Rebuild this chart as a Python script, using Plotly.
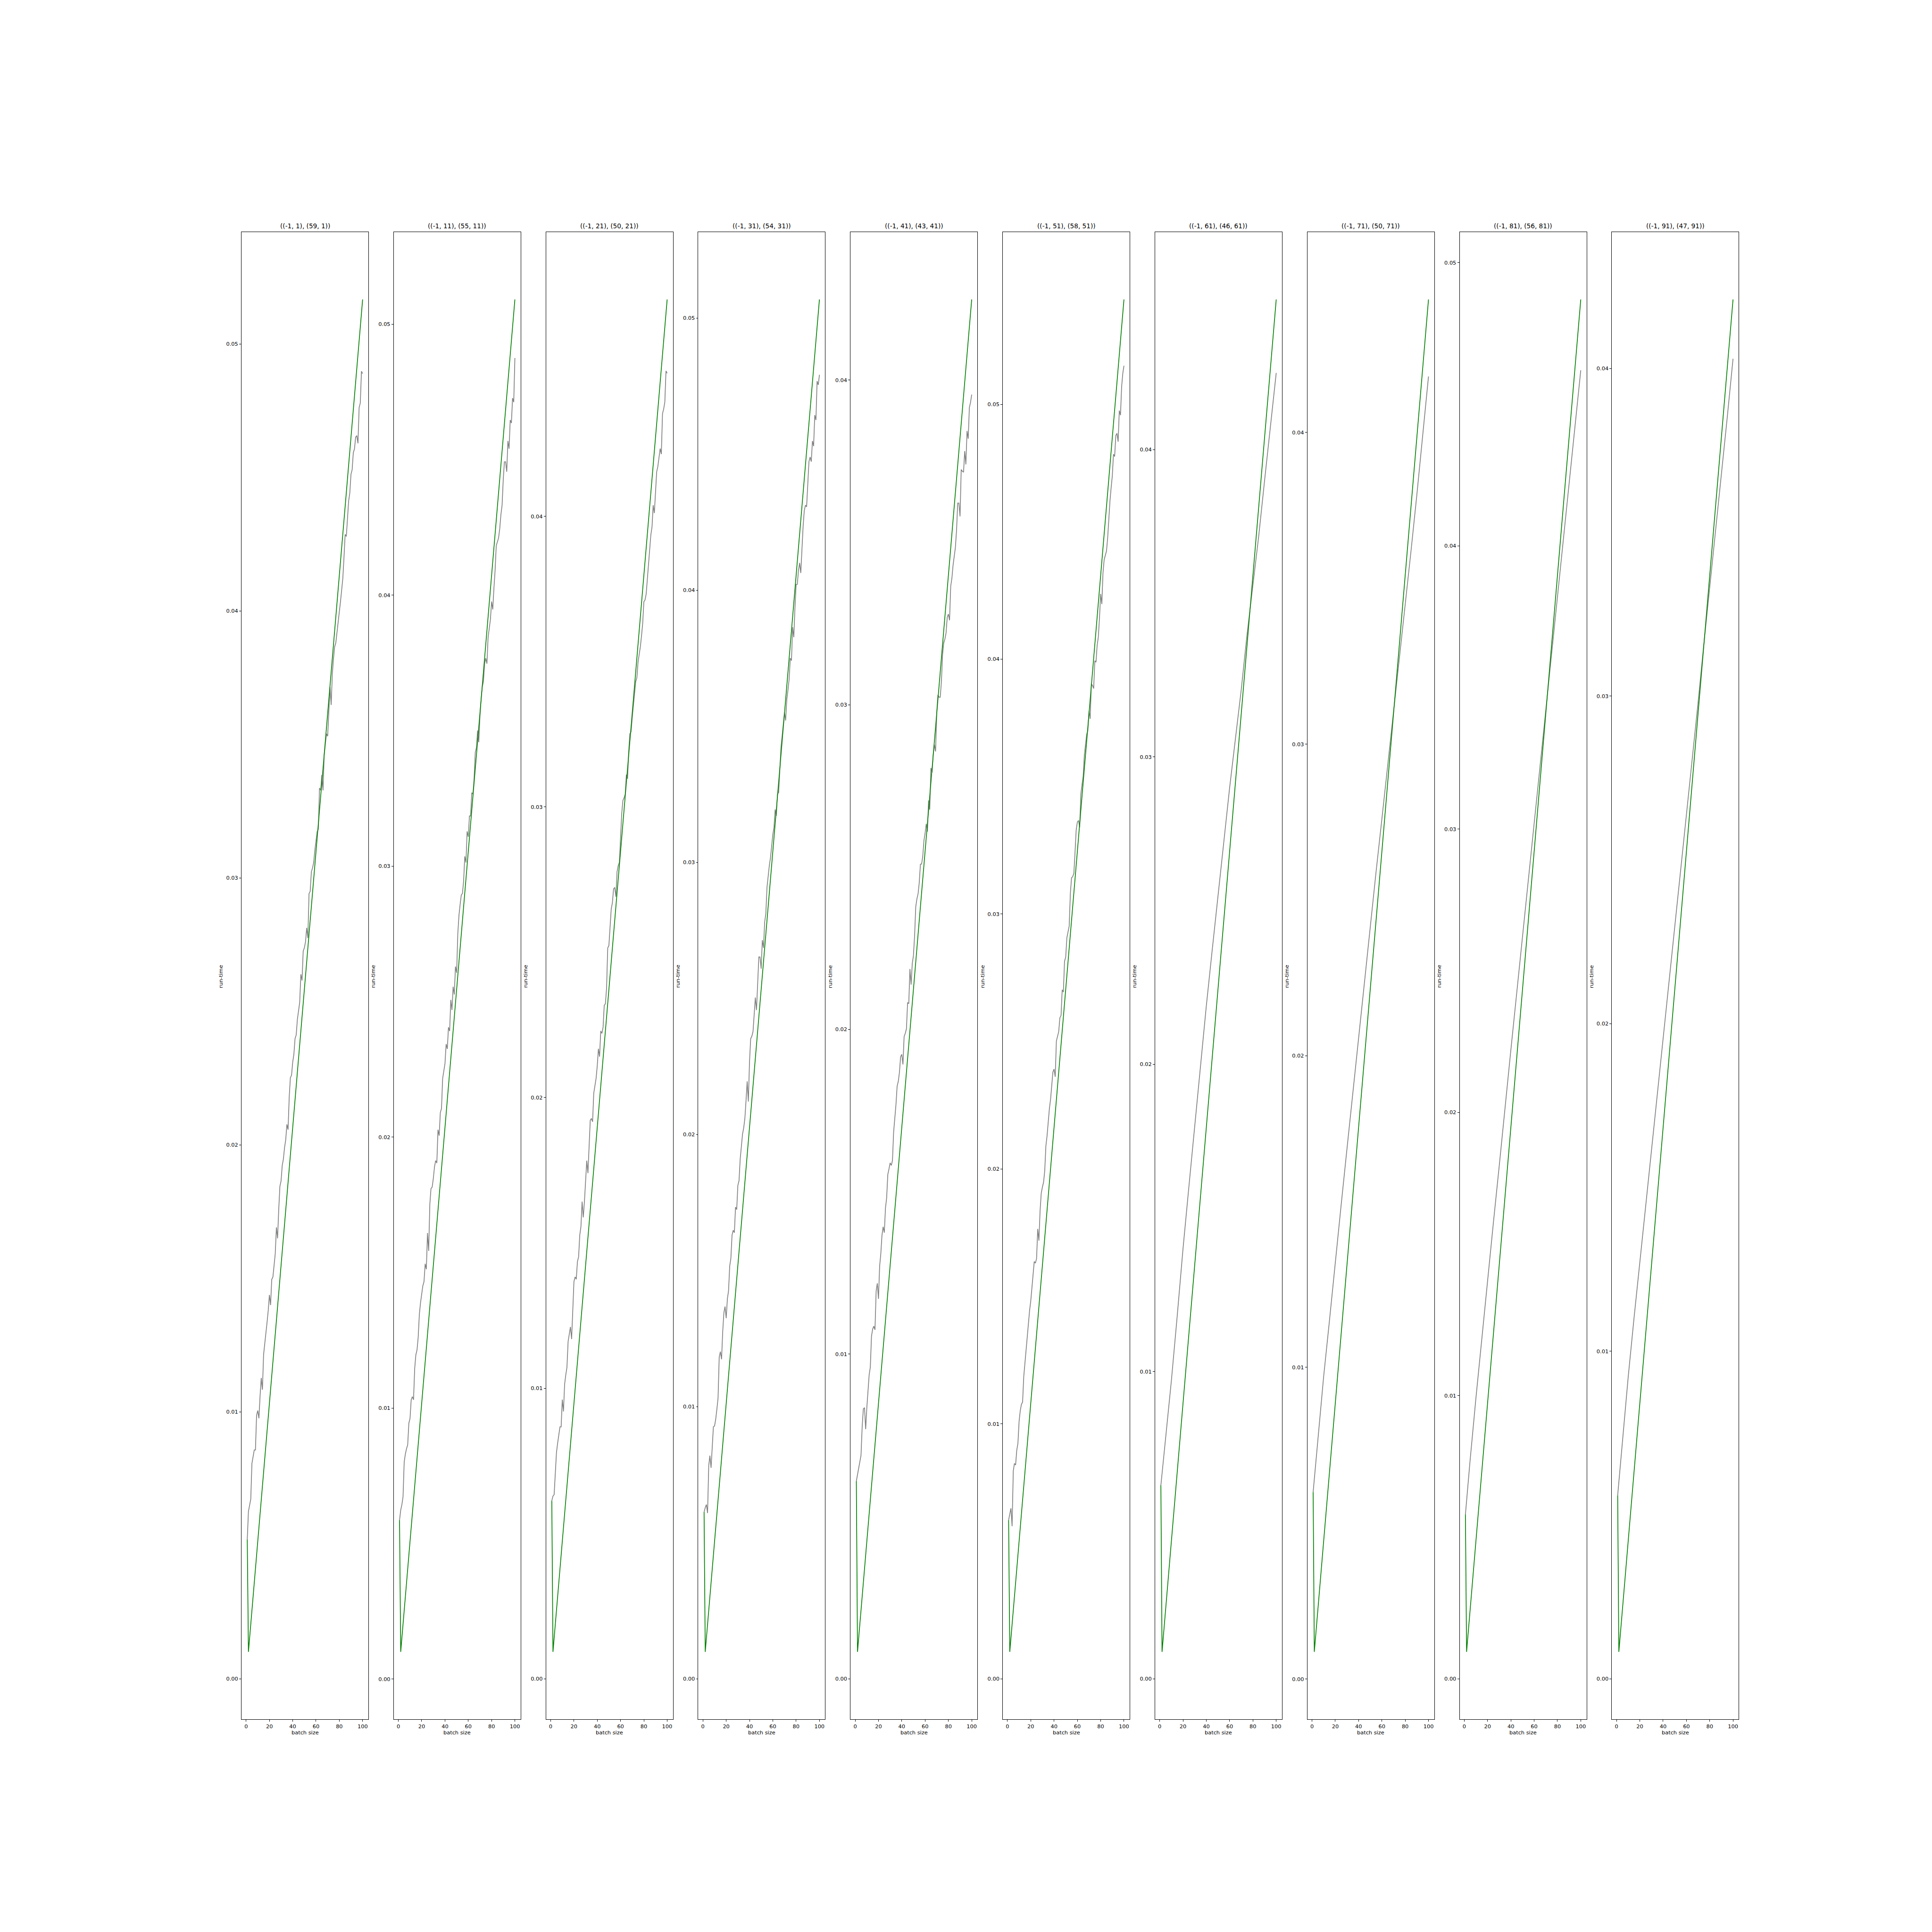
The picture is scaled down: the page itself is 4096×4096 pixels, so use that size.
import plotly.graph_objects as go

# ---------------- data ----------------
batch_size = list(range(1, 101))

titles = [
    "((-1, 1), (59, 1))", "((-1, 11), (55, 11))", "((-1, 21), (50, 21))",
    "((-1, 31), (54, 31))", "((-1, 41), (43, 41))", "((-1, 51), (58, 51))",
    "((-1, 61), (46, 61))", "((-1, 71), (50, 71))", "((-1, 81), (56, 81))",
    "((-1, 91), (47, 91))",
]

runtime_p1 = [
    0.00522, 0.00627, 0.00650, 0.00673, 0.00807, 0.00836, 0.00857, 0.00857, 0.00987, 0.01005,
    0.00976, 0.01060, 0.01127, 0.01083, 0.01214, 0.01255, 0.01292, 0.01336, 0.01380, 0.01438,
    0.01400, 0.01496, 0.01505, 0.01554, 0.01592, 0.01691, 0.01650, 0.01758, 0.01845, 0.01865,
    0.01923, 0.01947, 0.01990, 0.02019, 0.02077, 0.02057, 0.02179, 0.02252, 0.02261, 0.02310,
    0.02339, 0.02398, 0.02412, 0.02470, 0.02499, 0.02534, 0.02639, 0.02616, 0.02726, 0.02738,
    0.02761, 0.02813, 0.02775, 0.02941, 0.02950, 0.03023, 0.03037, 0.03058, 0.03104, 0.03139,
    0.03174, 0.03183, 0.03337, 0.03328, 0.03386, 0.03328, 0.03459, 0.03502, 0.03540, 0.03531,
    0.03633, 0.03715, 0.03648, 0.03764, 0.03822, 0.03866, 0.03881, 0.03924, 0.03959, 0.03997,
    0.04035, 0.04075, 0.04122, 0.04200, 0.04287, 0.04279, 0.04337, 0.04412, 0.04442, 0.04512,
    0.04529, 0.04593, 0.04607, 0.04651, 0.04657, 0.04628, 0.04762, 0.04779, 0.04898, 0.04889,
]
runtime_p2 = [
    0.00586, 0.00623, 0.00643, 0.00672, 0.00801, 0.00830, 0.00850, 0.00864, 0.00944, 0.00961,
    0.01030, 0.01042, 0.01030, 0.01145, 0.01196, 0.01214, 0.01260, 0.01345, 0.01388, 0.01423,
    0.01451, 0.01466, 0.01532, 0.01512, 0.01646, 0.01580, 0.01752, 0.01810, 0.01815, 0.01847,
    0.01890, 0.01913, 0.01904, 0.02027, 0.02005, 0.02090, 0.02105, 0.02216, 0.02242, 0.02271,
    0.02343, 0.02325, 0.02405, 0.02391, 0.02506, 0.02469, 0.02555, 0.02526, 0.02629, 0.02606,
    0.02750, 0.02818, 0.02858, 0.02893, 0.02899, 0.02945, 0.03036, 0.03013, 0.03128, 0.03108,
    0.03185, 0.03185, 0.03271, 0.03265, 0.03323, 0.03420, 0.03437, 0.03500, 0.03457, 0.03552,
    0.03615, 0.03661, 0.03681, 0.03747, 0.03767, 0.03747, 0.03844, 0.03881, 0.03910, 0.03976,
    0.03947, 0.04025, 0.04090, 0.04182, 0.04196, 0.04211, 0.04245, 0.04297, 0.04331, 0.04426,
    0.04492, 0.04492, 0.04455, 0.04569, 0.04540, 0.04646, 0.04635, 0.04727, 0.04712, 0.04875,
]
runtime_p3 = [
    0.00613, 0.00629, 0.00634, 0.00699, 0.00779, 0.00811, 0.00843, 0.00867, 0.00867, 0.00961,
    0.00920, 0.01014, 0.01046, 0.01072, 0.01161, 0.01187, 0.01211, 0.01169, 0.01275, 0.01367,
    0.01383, 0.01375, 0.01436, 0.01452, 0.01527, 0.01556, 0.01642, 0.01588, 0.01642, 0.01722,
    0.01783, 0.01740, 0.01847, 0.01922, 0.01928, 0.01917, 0.02015, 0.02039, 0.02066, 0.02109,
    0.02168, 0.02141, 0.02229, 0.02221, 0.02242, 0.02317, 0.02323, 0.02376, 0.02515, 0.02523,
    0.02590, 0.02649, 0.02670, 0.02718, 0.02723, 0.02691, 0.02777, 0.02798, 0.02809, 0.02897,
    0.02977, 0.03022, 0.03031, 0.03044, 0.03111, 0.03097, 0.03191, 0.03252, 0.03258, 0.03306,
    0.03351, 0.03397, 0.03431, 0.03444, 0.03498, 0.03525, 0.03551, 0.03589, 0.03631, 0.03706,
    0.03712, 0.03733, 0.03786, 0.03845, 0.03899, 0.03936, 0.03963, 0.04038, 0.04011, 0.04086,
    0.04153, 0.04171, 0.04206, 0.04233, 0.04214, 0.04353, 0.04369, 0.04393, 0.04500, 0.04492,
]
runtime_p4 = [
    0.00612, 0.00629, 0.00640, 0.00609, 0.00783, 0.00820, 0.00775, 0.00854, 0.00926, 0.00929,
    0.00954, 0.00991, 0.01031, 0.01182, 0.01202, 0.01174, 0.01276, 0.01345, 0.01368, 0.01325,
    0.01396, 0.01425, 0.01516, 0.01545, 0.01630, 0.01648, 0.01639, 0.01733, 0.01724, 0.01813,
    0.01830, 0.01910, 0.01961, 0.02001, 0.02024, 0.02058, 0.02124, 0.02195, 0.02121, 0.02267,
    0.02352, 0.02361, 0.02378, 0.02438, 0.02503, 0.02457, 0.02566, 0.02652, 0.02652, 0.02609,
    0.02714, 0.02686, 0.02780, 0.02811, 0.02908, 0.02951, 0.02988, 0.03017, 0.03057, 0.03102,
    0.03128, 0.03194, 0.03171, 0.03251, 0.03256, 0.03336, 0.03422, 0.03464, 0.03507, 0.03550,
    0.03521, 0.03599, 0.03633, 0.03673, 0.03750, 0.03741, 0.03864, 0.03827, 0.03935, 0.04021,
    0.04021, 0.04072, 0.04100, 0.04063, 0.04149, 0.04234, 0.04292, 0.04312, 0.04306, 0.04391,
    0.04472, 0.04489, 0.04472, 0.04548, 0.04529, 0.04643, 0.04625, 0.04768, 0.04754, 0.04791,
]
runtime_p5 = [
    0.00609, 0.00628, 0.00649, 0.00666, 0.00688, 0.00776, 0.00831, 0.00835, 0.00769, 0.00835,
    0.00884, 0.00936, 0.00960, 0.01055, 0.01077, 0.01086, 0.01075, 0.01194, 0.01218, 0.01170,
    0.01271, 0.01309, 0.01366, 0.01392, 0.01374, 0.01450, 0.01481, 0.01553, 0.01570, 0.01589,
    0.01581, 0.01596, 0.01684, 0.01725, 0.01768, 0.01825, 0.01840, 0.01868, 0.01916, 0.01923,
    0.01892, 0.01978, 0.01988, 0.02002, 0.02083, 0.02079, 0.02186, 0.02138, 0.02203, 0.02227,
    0.02289, 0.02378, 0.02402, 0.02418, 0.02452, 0.02509, 0.02509, 0.02533, 0.02581, 0.02604,
    0.02633, 0.02609, 0.02705, 0.02677, 0.02805, 0.02791, 0.02848, 0.02877, 0.02856, 0.02975,
    0.03030, 0.03023, 0.03023, 0.03071, 0.03154, 0.03190, 0.03202, 0.03221, 0.03269, 0.03279,
    0.03260, 0.03365, 0.03389, 0.03429, 0.03453, 0.03484, 0.03537, 0.03621, 0.03621, 0.03580,
    0.03724, 0.03719, 0.03716, 0.03781, 0.03740, 0.03843, 0.03819, 0.03915, 0.03931, 0.03955,
]
runtime_p6 = [
    0.00623, 0.00650, 0.00669, 0.00599, 0.00815, 0.00845, 0.00839, 0.00897, 0.00924, 0.01010,
    0.01052, 0.01077, 0.01086, 0.01186, 0.01238, 0.01278, 0.01339, 0.01393, 0.01445, 0.01482,
    0.01537, 0.01588, 0.01637, 0.01631, 0.01649, 0.01765, 0.01719, 0.01835, 0.01905, 0.01929,
    0.01948, 0.01993, 0.02091, 0.02130, 0.02191, 0.02237, 0.02273, 0.02322, 0.02380, 0.02392,
    0.02362, 0.02502, 0.02520, 0.02539, 0.02593, 0.02602, 0.02703, 0.02694, 0.02815, 0.02831,
    0.02907, 0.02928, 0.02953, 0.03081, 0.03142, 0.03147, 0.03160, 0.03242, 0.03330, 0.03361,
    0.03367, 0.03340, 0.03471, 0.03507, 0.03541, 0.03623, 0.03668, 0.03705, 0.03720, 0.03796,
    0.03766, 0.03903, 0.03897, 0.03885, 0.03994, 0.03988, 0.04055, 0.04086, 0.04162, 0.04256,
    0.04216, 0.04338, 0.04390, 0.04408, 0.04424, 0.04475, 0.04552, 0.04621, 0.04673, 0.04719,
    0.04804, 0.04795, 0.04877, 0.04886, 0.04853, 0.04975, 0.04957, 0.05069, 0.05121, 0.05151,
]
# last four panels: readings taken at a coarser spacing
coarse_x = [1, 5, 10, 15, 20, 25, 30, 35, 40, 45, 50, 55, 60, 65, 70, 75, 80, 85, 90, 95, 100]
runtime_p7 = [0.0063, 0.0078, 0.0097, 0.0118, 0.0140, 0.0160, 0.0180, 0.0200, 0.0219, 0.0237, 0.0255,
              0.0272, 0.0290, 0.0306, 0.0322, 0.0340, 0.0356, 0.0372, 0.0390, 0.0407, 0.0425]
runtime_p8 = [0.0060, 0.0076, 0.0097, 0.0115, 0.0134, 0.0152, 0.0170, 0.0188, 0.0206, 0.0224, 0.0242,
              0.0259, 0.0276, 0.0293, 0.0311, 0.0328, 0.0345, 0.0362, 0.0380, 0.0399, 0.0418]
runtime_p9 = [0.0058, 0.0077, 0.0099, 0.0120, 0.0141, 0.0161, 0.0181, 0.0202, 0.0222, 0.0242, 0.0262,
              0.0282, 0.0302, 0.0322, 0.0342, 0.0361, 0.0381, 0.0401, 0.0422, 0.0442, 0.0462]
runtime_p10 = [0.0056, 0.0072, 0.0092, 0.0110, 0.0127, 0.0144, 0.0161, 0.0178, 0.0195, 0.0212, 0.0229,
               0.0246, 0.0264, 0.0281, 0.0298, 0.0316, 0.0333, 0.0350, 0.0368, 0.0385, 0.0403]

measured = [runtime_p1, runtime_p2, runtime_p3, runtime_p4, runtime_p5,
            runtime_p6, runtime_p7, runtime_p8, runtime_p9, runtime_p10]
measured_x = [batch_size] * 6 + [coarse_x] * 4

# green model line: (x=1, first measurement), (x=2, fit start), (x=100, fit end)
model_x = [1, 2, 100]
model_min = [0.00101, 0.00100, 0.00093, 0.00099, 0.00083, 0.00106, 0.00088, 0.00087, 0.00095, 0.00082]
model_max = [0.05167, 0.05091, 0.04746, 0.05068, 0.04248, 0.05411, 0.04489, 0.04427, 0.04870, 0.04211]

x_ticks = [0, 20, 40, 60, 80, 100]

# ---------------- layout ----------------
S = 4096 / 5000.0
FONT = "DejaVu Sans"
tick_size = 13.89 * S
title_size = 16.67 * S
lw = 2.08 * S

left, right, bottom, top = 0.125, 0.9, 0.11, 0.88
ncol = 10
w = (right - left) / (ncol + 0.2 * (ncol - 1))
step = w * 1.2

fig = go.Figure()
annotations = []
layout_axes = {}

for i in range(ncol):
    n = "" if i == 0 else str(i + 1)
    xa, ya = "x" + n, "y" + n
    xs = measured_x[i]
    ys = measured[i]
    my = [ys[0], model_min[i], model_max[i]]

    fig.add_trace(go.Scatter(x=xs, y=ys, mode="lines",
                             line=dict(color="#808080", width=lw),
                             xaxis=xa, yaxis=ya, showlegend=False))
    fig.add_trace(go.Scatter(x=model_x, y=my, mode="lines",
                             line=dict(color="#008000", width=lw),
                             xaxis=xa, yaxis=ya, showlegend=False))

    allx = list(xs) + model_x
    ally = list(ys) + my
    x0, x1 = min(allx), max(allx)
    y0, y1 = min(ally), max(ally)
    px = 0.05 * (x1 - x0)
    py = 0.05 * (y1 - y0)

    L = left + i * step
    common = dict(showline=True, mirror=True, linecolor="black", linewidth=0.8 * 1.389 * S,
                  ticks="outside", ticklen=3.5 * 1.389 * S, tickwidth=0.8 * 1.389 * S,
                  tickcolor="black", showgrid=False, zeroline=False,
                  tickfont=dict(family=FONT, size=tick_size, color="black"))
    layout_axes["xaxis" + n] = dict(domain=[L, L + w], range=[x0 - px, x1 + px],
                                    anchor=ya, tickmode="array", tickvals=x_ticks,
                                    **common)
    layout_axes["yaxis" + n] = dict(domain=[bottom, top], range=[y0 - py, y1 + py],
                                    anchor=xa, tickmode="linear", tick0=0, dtick=0.01,
                                    tickformat=".2f", **common)

    cx = L + w / 2
    annotations.append(dict(text=titles[i], x=cx, y=top + 2.5 / 4096, xref="paper", yref="paper",
                            xanchor="center", yanchor="bottom", showarrow=False,
                            font=dict(family=FONT, size=title_size, color="black")))
    annotations.append(dict(text="batch size", x=cx, y=1 - 4484 / 5000, xref="paper", yref="paper",
                            xanchor="center", yanchor="middle", showarrow=False,
                            font=dict(family=FONT, size=tick_size, color="black")))
    annotations.append(dict(text="run-time", x=L - 53 / 5000, y=1 - 2527 / 5000, xref="paper",
                            yref="paper", xanchor="center", yanchor="middle", showarrow=False,
                            textangle=-90,
                            font=dict(family=FONT, size=tick_size, color="black")))

fig.update_layout(width=4096, height=4096, margin=dict(l=0, r=0, t=0, b=0),
                  paper_bgcolor="white", plot_bgcolor="white",
                  font=dict(family=FONT, color="black"),
                  annotations=annotations, showlegend=False, **layout_axes)

fig.write_html("out.html")
